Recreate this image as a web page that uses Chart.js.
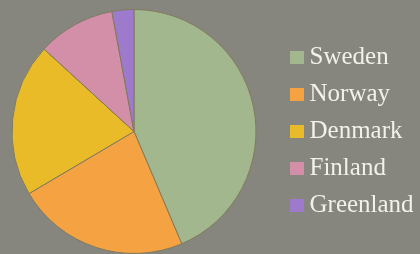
<!DOCTYPE html>
<html>
<head>
<meta charset="utf-8">
<script src="https://cdn.jsdelivr.net/npm/chart.js@4"></script>
<style>
html,body{margin:0;padding:0;background:#86867e;}
#wrap{width:420px;height:254px;position:relative;}
</style>
</head>
<body>
<div id="wrap"><canvas id="c" width="420" height="254"></canvas></div>
<script>
const categories = ["Sweden", "Norway", "Denmark", "Finland", "Greenland"];
const shares = [43.6, 22.9, 20.3, 10.3, 2.9];
const sliceColors = ["#a3b78f", "#f5a342", "#e9bb28", "#d48fa8", "#9e7acd"];

function swatch(color) {
  const cv = document.createElement('canvas');
  cv.width = 14; cv.height = 13;
  const g = cv.getContext('2d');
  g.fillStyle = color;
  g.fillRect(0, 0, 14, 13);
  return cv;
}

const legendPlace = {
  id: 'legendPlace',
  beforeInit(chart) {
    const lg = chart.legend;
    if (!lg) return;
    const orig = lg.fit;
    lg.fit = function () { orig.call(this); this.width = 162; };
  },
  afterLayout(chart) {
    const lg = chart.legend;
    if (!lg) return;
    lg.left += 26; lg.right += 26;
  }
};

new Chart(document.getElementById('c'), {
  type: 'pie',
  data: {
    labels: categories,
    datasets: [{
      data: shares,
      backgroundColor: sliceColors,
      borderColor: '#7f7b5f',
      borderWidth: 1
    }]
  },
  options: {
    responsive: false,
    devicePixelRatio: 1,
    animation: false,
    layout: { padding: { top: 9, bottom: 0, left: 10, right: 0 } },
    plugins: {
      tooltip: { enabled: false },
      legend: {
        position: 'right',
        align: 'center',
        labels: {
          usePointStyle: true,
          pointStyleWidth: 1,
          boxHeight: 13,
          padding: 12,
          color: '#f3f1e8',
          font: { family: "'Liberation Serif', serif", size: 25 },
          generateLabels(chart) {
            return chart.data.labels.map((label, i) => ({
              text: label,
              fillStyle: sliceColors[i],
              strokeStyle: sliceColors[i],
              lineWidth: 0,
              fontColor: '#f3f1e8',
              pointStyle: swatch(sliceColors[i]),
              hidden: false,
              index: i
            }));
          }
        }
      }
    }
  },
  plugins: [legendPlace]
});
</script>
</body>
</html>
